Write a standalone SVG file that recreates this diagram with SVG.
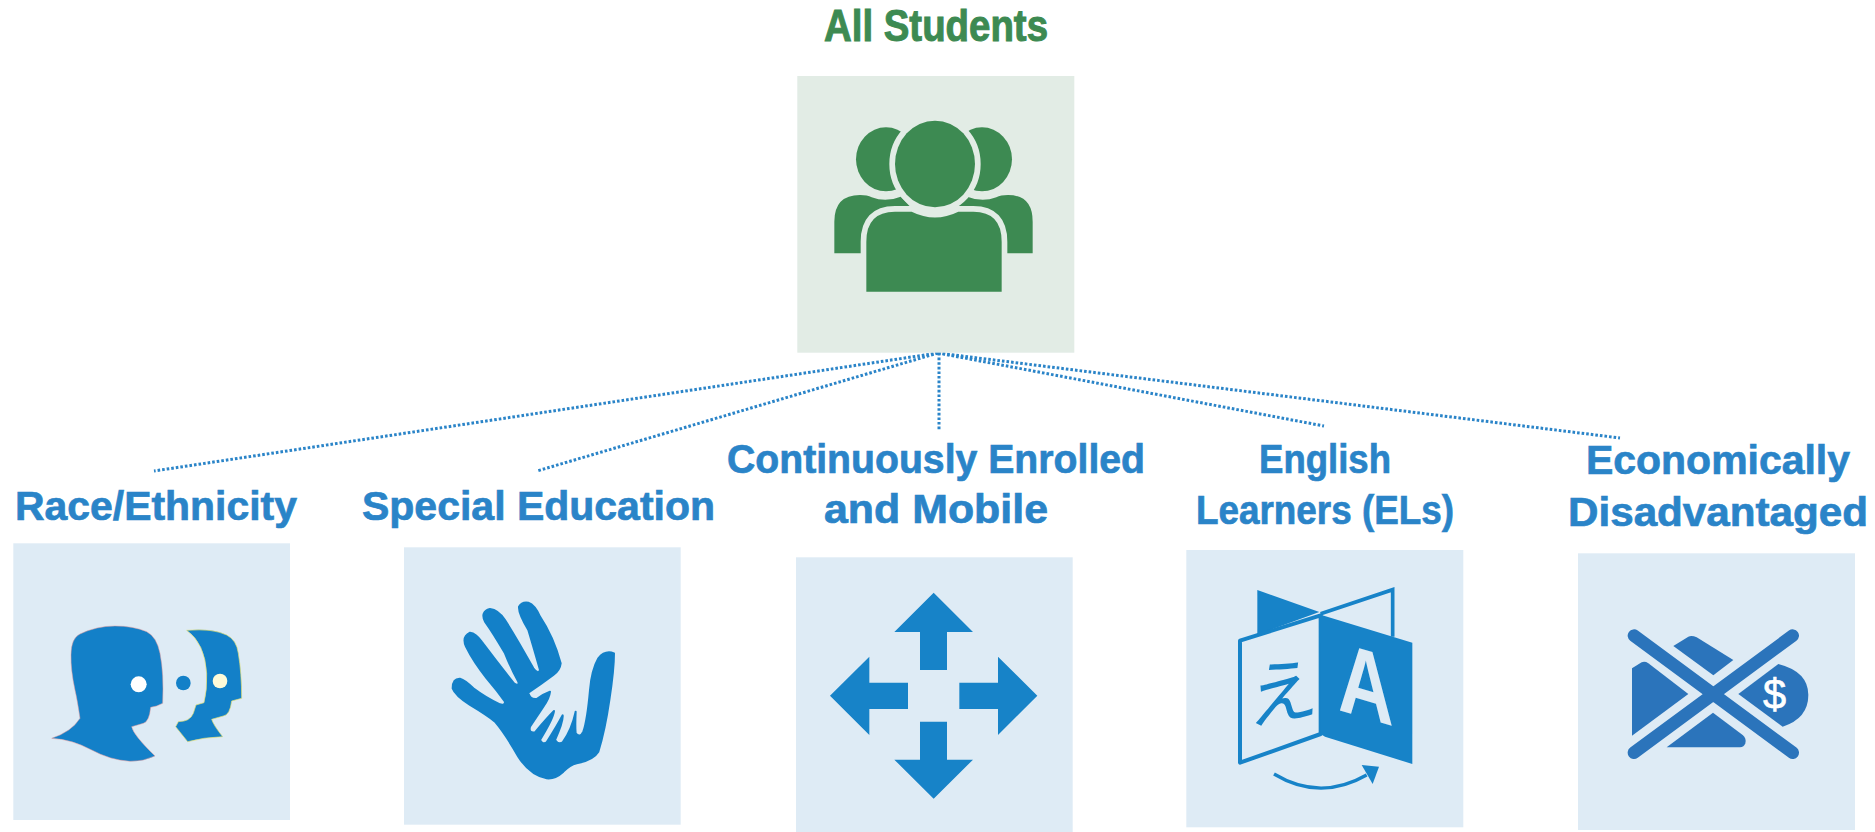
<svg xmlns="http://www.w3.org/2000/svg" width="1875" height="832" viewBox="0 0 1875 832">
<style>
.lbl{font-family:"Liberation Sans",Arial,sans-serif;font-weight:700;font-size:41px;fill:#2a84c8;stroke:#2a84c8;stroke-width:.7}
.grn{font-family:"Liberation Sans",Arial,sans-serif;font-weight:700;font-size:44px;fill:#3d8a52;stroke:#3d8a52;stroke-width:1}
.pb{fill:#deebf5}
.pg{fill:#e2ece5}
.ic{fill:#1380c8}
.ig{fill:#3d8a52}
.ib{fill:#1783c8}
.id{fill:#2b74bb}
.cn{fill:none;stroke:#2a84c8;stroke-width:3;stroke-dasharray:2.6 2}
.halo{stroke:#e2ece5;stroke-width:34;paint-order:stroke}
</style>
<rect width="1875" height="832" fill="#fff"/>
<g id="connectors">
<path class="cn" d="M938 353L154 471"/>
<path class="cn" d="M938 353L537 471"/>
<path class="cn" d="M939 353V431"/>
<path class="cn" d="M938 353L1324 426"/>
<path class="cn" d="M938 353L1620 438"/>
</g>
<g id="all-students">
<text class="grn" x="824" y="41" textLength="224" lengthAdjust="spacingAndGlyphs">All Students</text>
<rect class="pg" x="797.3" y="76" width="277" height="276.7"/>
<g transform="translate(780,0) scale(.33333)">
<g id="people-back">
<ellipse class="ig" cx="318" cy="478" rx="90" ry="96"/>
<path class="ig" d="M163 760V665Q163 585 240 585Q262 585 275 592Q318 608 362 590L395 625L300 650L243 720V760Z"/>
<g transform="translate(924,0) scale(-1,1)">
<ellipse class="ig" cx="318" cy="478" rx="90" ry="96"/>
<path class="ig" d="M166 760V665Q166 585 240 585Q262 585 275 592Q318 608 362 590L395 625L300 650L243 720V760Z"/>
</g>
</g>
<path class="ig halo" d="M259 875V725Q259 635 345 635H395Q465 670 535 635H580Q665 635 665 725V875Z"/>
<ellipse class="ig halo" cx="465" cy="492" rx="120" ry="130"/>
</g>
</g>
<g id="race-ethnicity">
<text class="lbl" x="15" y="520" textLength="282" lengthAdjust="spacingAndGlyphs">Race/Ethnicity</text>
<rect class="pb" x="13.3" y="543.3" width="276.7" height="276.7"/>
<g transform="translate(0,530) scale(.33333)">
<path class="ic" stroke="#e89a9a" stroke-width="1.5" d="M155 625Q215 605 240 565Q232 510 225 480Q212 420 213 375Q213 325 240 312Q290 288 345 288Q400 288 440 305Q470 320 480 370Q492 430 488 520Q470 530 452 532Q448 575 430 580L395 590Q400 615 465 678Q430 695 390 694Q330 690 275 660Q215 628 155 625Z"/>
<circle cx="416" cy="463" r="24" fill="#fff"/>
<circle class="ic" cx="550" cy="459" r="22"/>
<path class="ic" stroke="#e4e070" stroke-width="2" d="M560 301Q640 295 680 315Q710 330 715 370Q725 430 725 505L695 513Q690 555 670 558L635 568Q640 585 668 620Q610 622 563 635L527 590L535 575Q570 575 580 550L588 525L612 518Q622 480 620 430Q615 340 560 301Z"/>
<circle cx="660" cy="453" r="22" fill="#fffbd8"/>
</g>
</g>
<g id="special-education">
<text class="lbl" x="362" y="520" textLength="353" lengthAdjust="spacingAndGlyphs">Special Education</text>
<rect class="pb" x="404" y="547.3" width="276.7" height="277.4"/>
<g transform="translate(390,530) scale(.33333)">
<path class="ic" stroke="#1380c8" stroke-width="6" stroke-linejoin="round" d="M470 745Q420 735 385 680Q345 610 315 575Q290 555 240 525Q195 495 188 475Q188 445 210 446Q225 450 250 475Q290 505 330 523Q345 527 345 515Q320 480 290 445Q250 395 228 350Q215 320 240 308Q258 310 275 335Q320 395 372 460Q388 470 385 455Q365 420 345 370Q310 310 285 275Q270 245 300 237Q325 240 345 270Q380 325 430 415Q445 435 450 420Q430 350 415 300Q385 250 387 230Q395 215 415 218Q435 225 450 260Q490 320 512 400Q510 420 490 435Q450 465 415 488Q420 510 440 507Q460 492 480 485Q478 505 460 530L420 590Q415 610 435 607Q470 565 492 543Q490 565 450 630Q458 645 470 637Q500 590 518 556Q520 575 495 630Q505 645 518 637Q545 600 557 545Q555 590 557 610Q570 625 580 605Q592 570 600 480Q605 420 625 385Q645 360 672 370Q672 420 658 510Q645 600 625 665Q610 690 560 700Q540 705 520 725Q495 748 470 745Z"/>
</g>
</g>
<g id="continuously-enrolled">
<text class="lbl" x="727" y="473" textLength="418" lengthAdjust="spacingAndGlyphs">Continuously Enrolled</text>
<text class="lbl" x="824" y="523" textLength="224" lengthAdjust="spacingAndGlyphs">and Mobile</text>
<rect class="pb" x="796" y="557.3" width="276.7" height="274.7"/>
<g transform="translate(780,540) scale(.33333)">
<path class="ib" d="M461 158L579 276H501V390H420V276H343Z"/>
<path class="ib" d="M461 776L579 659H501V545H420V659H343Z"/>
<path class="ib" d="M150 467L268 350V428H384V507H268V585Z"/>
<path class="ib" d="M772 467L654 350V428H538V507H654V585Z"/>
</g>
</g>
<g id="english-learners">
<text class="lbl" x="1259" y="473" textLength="132" lengthAdjust="spacingAndGlyphs">English</text>
<text class="lbl" x="1196" y="524" textLength="258" lengthAdjust="spacingAndGlyphs">Learners (ELs)</text>
<rect class="pb" x="1186.3" y="550" width="277" height="277.3"/>
<g transform="translate(1170,540) scale(.33333)">
<path class="ib" d="M262 150L448 216L262 284Z"/>
<path fill="none" stroke="#1783c8" stroke-width="11" d="M452 221L668 149V290"/>
<path fill="none" stroke="#1783c8" stroke-width="12" stroke-linejoin="round" d="M210 302L452 226V582L210 668Z"/>
<path class="ib" d="M452 224L727 308V672L465 590L452 582Z"/>
<text transform="translate(588,535) matrix(.78,.23,0,1,0,0)" text-anchor="middle" font-family="'Liberation Sans',Arial,sans-serif" font-weight="700" font-size="297" fill="#deebf5">A</text>
<text transform="translate(340,535) matrix(1,-.2,0,1,0,0)" text-anchor="middle" font-family="'Noto Sans CJK JP','Noto Sans CJK SC',sans-serif" font-weight="400" font-size="215" fill="#1783c8">え</text>
<path fill="none" stroke="#1783c8" stroke-width="10" d="M312 702Q450 785 590 705"/>
<path class="ib" d="M575 675L627 680L608 732Z"/>
</g>
</g>
<g id="economically-disadvantaged">
<text class="lbl" x="1586" y="474" textLength="264" lengthAdjust="spacingAndGlyphs">Economically</text>
<text class="lbl" x="1568" y="526" textLength="300" lengthAdjust="spacingAndGlyphs">Disadvantaged</text>
<rect class="pb" x="1578" y="553.3" width="277" height="276.7"/>
<g transform="translate(1560,540) scale(.33333)">
<path fill="none" stroke="#2b74bb" stroke-width="38" stroke-linecap="round" d="M222 287L698 638M698 287L222 638"/>
<path class="id" d="M340 318L385 290Q395 285 410 292L520 360L460 406Z"/>
<path class="id" d="M216 385L245 367Q255 363 265 370L385 462L216 587Z"/>
<path class="id" d="M320 622L459 518L548 585Q560 595 556 610Q552 622 540 622Z"/>
<path class="id" d="M535 462L655 372Q745 395 745 465Q745 535 668 560Z"/>
<text x="644" y="506" text-anchor="middle" font-family="'Liberation Sans',Arial,sans-serif" font-weight="400" font-size="125" fill="#fff" stroke="#fff" stroke-width="2">$</text>
</g>
</g>
</svg>
